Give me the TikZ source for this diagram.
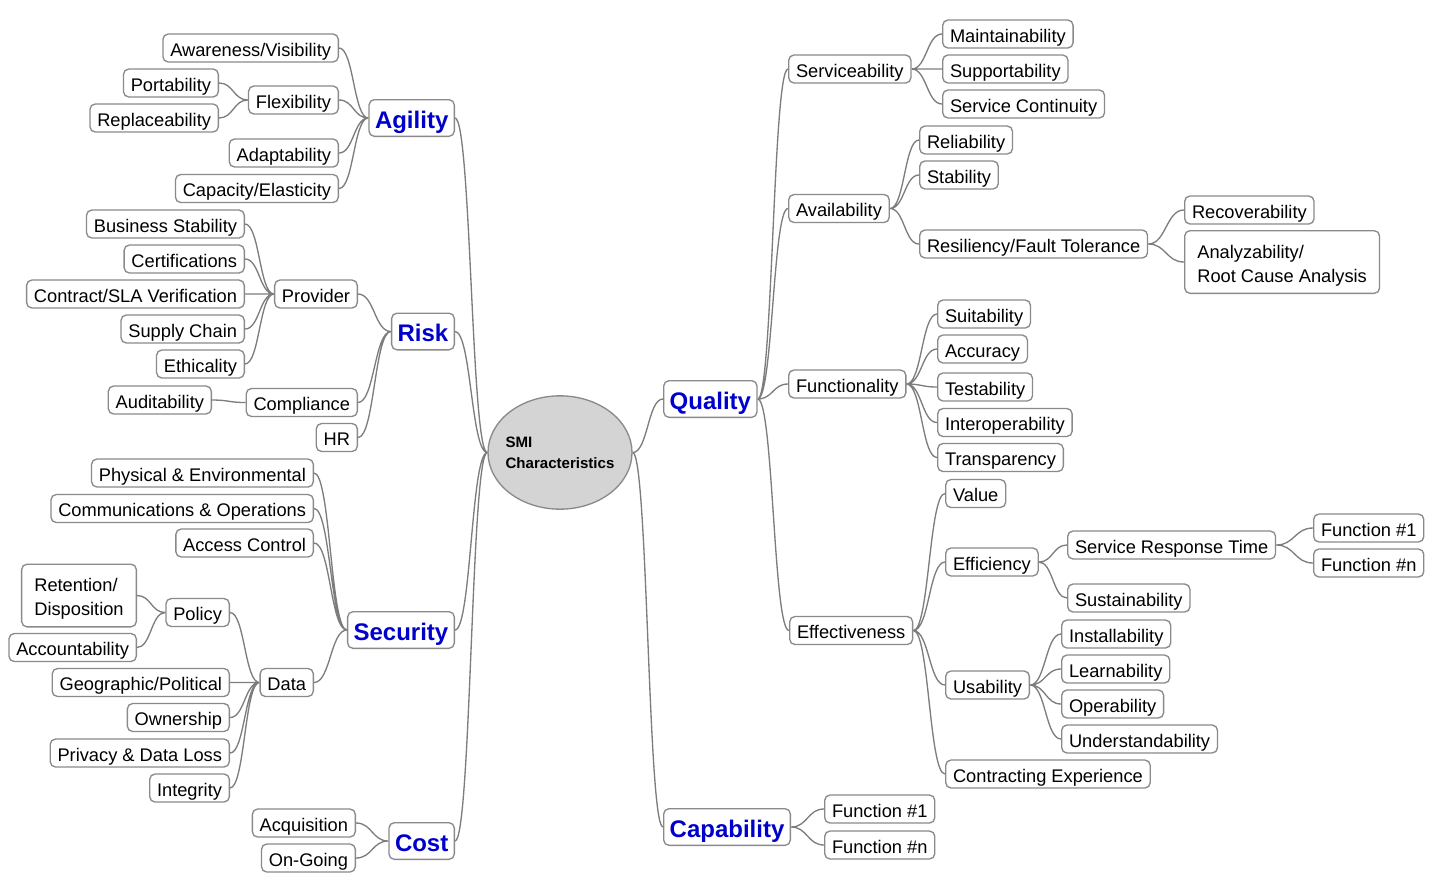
\documentclass[tikz,border=0pt]{standalone}
\usepackage{fontspec}
\setmainfont{Liberation Sans}
\usetikzlibrary{shapes.geometric,calc}

\definecolor{boxgray}{RGB}{138,138,138}
\definecolor{linkgray}{RGB}{125,125,125}
\definecolor{hubgray}{RGB}{212,212,212}
\definecolor{topicblue}{RGB}{0,0,204}

\tikzset{every picture/.style={line width=0.75pt}}
\tikzset{
  box/.style={draw=boxgray, line width=1pt, rounded corners=4pt, fill=white,
    font=\fontsize{13.7}{18}\selectfont, inner xsep=5.5pt, inner ysep=2pt, minimum height=21pt,
    text height=13pt, text depth=1pt},
  multibox/.style={box, align=left, inner xsep=9.5pt, minimum height=47pt,
    text height=30pt, text depth=0pt},
  topic/.style={box, text=topicblue, font=\fontsize{18}{21}\selectfont\bfseries,
    inner xsep=4.5pt, minimum height=27.5pt, text height=16pt, text depth=1pt},
  hub/.style={ellipse, draw=boxgray, line width=1pt, fill=hubgray, inner sep=0pt,
    minimum width=108pt, minimum height=85pt},
  hubtext/.style={align=left, font=\fontsize{11.3}{15.75}\selectfont\bfseries, inner sep=0pt},
  link/.style={draw=linkgray, line width=1pt, to path={
    let \p1=(\tikztostart), \p2=(\tikztotarget) in
    .. controls ({(\x1+\x2)/2*1pt},\y1) and ({(\x1+\x2)/2*1pt},\y2) .. (\p2)}}
}

\begin{document}
\begin{tikzpicture}[x=0.75pt,y=0.75pt,yscale=-1,xscale=1]
    \useasboundingbox (0,0) rectangle (1437,886);
    % Hub
    \node[hub] (smi) at (560,452.5) {};
    \node[hubtext] (smitext) at (smi.center) {SMI\\Characteristics};
    % Topics, left
    \node[topic, anchor=east] (agility) at (455,118) {Agility};
    \node[topic, anchor=east] (risk) at (455,331.5) {Risk};
    \node[topic, anchor=east] (security) at (455,630) {Security};
    \node[topic, anchor=east] (cost) at (455,841) {Cost};
    % Topics, right
    \node[topic, anchor=west] (quality) at (663,399) {Quality};
    \node[topic, anchor=west] (capability) at (663,827) {Capability};

    % Text Node: Agility
    \node[box, anchor=east] (awareness) at (339,48) {Awareness/Visibility};
    \node[box, anchor=east] (flexibility) at (339,100) {Flexibility};
    \node[box, anchor=east] (adaptability) at (339,153) {Adaptability};
    \node[box, anchor=east] (capacity) at (339,188.5) {Capacity/Elasticity};
    \node[box, anchor=east] (portability) at (219,83) {Portability};
    \node[box, anchor=east] (replaceability) at (219,118) {Replaceability};
    % Text Node: Risk
    \node[box, anchor=east] (provider) at (358,294) {Provider};
    \node[box, anchor=east] (compliance) at (358,402.5) {Compliance};
    \node[box, anchor=east] (hr) at (358,437.5) {HR};
    \node[box, anchor=east] (business) at (245,224) {Business Stability};
    \node[box, anchor=east] (certifications) at (245,259) {Certifications};
    \node[box, anchor=east] (contract) at (245,294) {Contract/SLA Verification};
    \node[box, anchor=east] (supply) at (245,329) {Supply Chain};
    \node[box, anchor=east] (ethicality) at (245,364) {Ethicality};
    \node[box, anchor=east] (auditability) at (212,400) {Auditability};
    % Text Node: Security
    \node[box, anchor=east] (physical) at (314,473) {Physical \& Environmental};
    \node[box, anchor=east] (communications) at (314,508.5) {Communications \& Operations};
    \node[box, anchor=east] (access) at (314,543) {Access Control};
    \node[box, anchor=east] (data) at (314,682.5) {Data};
    \node[box, anchor=east] (policy) at (230,612.5) {Policy};
    \node[box, anchor=east] (geographic) at (230,682.5) {Geographic/Political};
    \node[box, anchor=east] (ownership) at (230,717.5) {Ownership};
    \node[box, anchor=east] (privacy) at (230,753) {Privacy \& Data Loss};
    \node[box, anchor=east] (integrity) at (230,788) {Integrity};
    \node[multibox, anchor=east] (retention) at (137,595.5) {Retention/\\Disposition};
    \node[box, anchor=east] (accountability) at (137,647.5) {Accountability};
    % Text Node: Cost
    \node[box, anchor=east] (acquisition) at (356,823) {Acquisition};
    \node[box, anchor=east] (ongoing) at (356,858) {On-Going};

    % Text Node: Quality
    \node[box, anchor=west] (serviceability) at (788,69) {Serviceability};
    \node[box, anchor=west] (availability) at (788,208.5) {Availability};
    \node[box, anchor=west] (functionality) at (788,384) {Functionality};
    \node[box, anchor=west] (effectiveness) at (789,630.5) {Effectiveness};
    \node[box, anchor=west] (maintainability) at (942,34) {Maintainability};
    \node[box, anchor=west] (supportability) at (942,69) {Supportability};
    \node[box, anchor=west] (continuity) at (942,104) {Service Continuity};
    \node[box, anchor=west] (reliability) at (919,140) {Reliability};
    \node[box, anchor=west] (stability) at (919,175) {Stability};
    \node[box, anchor=west] (resiliency) at (919,244) {Resiliency/Fault Tolerance};
    \node[box, anchor=west] (recoverability) at (1184,210) {Recoverability};
    \node[multibox, anchor=west] (analyzability) at (1184,262) {Analyzability/\\Root Cause Analysis};
    \node[box, anchor=west] (suitability) at (937,314) {Suitability};
    \node[box, anchor=west] (accuracy) at (937,349) {Accuracy};
    \node[box, anchor=west] (testability) at (937,387) {Testability};
    \node[box, anchor=west] (interoperability) at (937,422.5) {Interoperability};
    \node[box, anchor=west] (transparency) at (937,457.5) {Transparency};
    \node[box, anchor=west] (value) at (945,493.5) {Value};
    \node[box, anchor=west] (efficiency) at (945,562) {Efficiency};
    \node[box, anchor=west] (usability) at (945,685) {Usability};
    \node[box, anchor=west] (contracting) at (945,774) {Contracting Experience};
    \node[box, anchor=west] (response) at (1067,545) {Service Response Time};
    \node[box, anchor=west] (sustainability) at (1067,598) {Sustainability};
    \node[box, anchor=west] (respfirst) at (1313,528) {Function \#1};
    \node[box, anchor=west] (respn) at (1313,563) {Function \#n};
    \node[box, anchor=west] (installability) at (1061,634) {Installability};
    \node[box, anchor=west] (learnability) at (1061,669) {Learnability};
    \node[box, anchor=west] (operability) at (1061,704) {Operability};
    \node[box, anchor=west] (understandability) at (1061,739) {Understandability};
    % Text Node: Capability
    \node[box, anchor=west] (capfirst) at (824,809) {Function \#1};
    \node[box, anchor=west] (capn) at (824,845) {Function \#n};

    % Connection: hub
    \draw[link] (smi.west) to (agility.east) (smi.west) to (risk.east)
      (smi.west) to (security.east) (smi.west) to (cost.east);
    \draw[link] (smi.east) to (quality.west) (smi.east) to (capability.west);
    % Connection: Agility
    \draw[link] (agility.west) to (awareness.east) (agility.west) to (flexibility.east)
      (agility.west) to (adaptability.east) (agility.west) to (capacity.east);
    \draw[link] (flexibility.west) to (portability.east) (flexibility.west) to (replaceability.east);
    % Connection: Risk
    \draw[link] (risk.west) to (provider.east) (risk.west) to (compliance.east) (risk.west) to (hr.east);
    \draw[link] (provider.west) to (business.east) (provider.west) to (certifications.east)
      (provider.west) to (contract.east) (provider.west) to (supply.east) (provider.west) to (ethicality.east);
    \draw[link] (compliance.west) to (auditability.east);
    % Connection: Security
    \draw[link] (security.west) to (physical.east) (security.west) to (communications.east)
      (security.west) to (access.east) (security.west) to (data.east);
    \draw[link] (data.west) to (policy.east) (data.west) to (geographic.east)
      (data.west) to (ownership.east) (data.west) to (privacy.east) (data.west) to (integrity.east);
    \draw[link] (policy.west) to (retention.east) (policy.west) to (accountability.east);
    % Connection: Cost
    \draw[link] (cost.west) to (acquisition.east) (cost.west) to (ongoing.east);
    % Connection: Quality
    \draw[link] (quality.east) to (serviceability.west) (quality.east) to (availability.west)
      (quality.east) to (functionality.west) (quality.east) to (effectiveness.west);
    \draw[link] (serviceability.east) to (maintainability.west) (serviceability.east) to (supportability.west)
      (serviceability.east) to (continuity.west);
    \draw[link] (availability.east) to (reliability.west) (availability.east) to (stability.west)
      (availability.east) to (resiliency.west);
    \draw[link] (resiliency.east) to (recoverability.west) (resiliency.east) to (analyzability.west);
    \draw[link] (functionality.east) to (suitability.west) (functionality.east) to (accuracy.west)
      (functionality.east) to (testability.west) (functionality.east) to (interoperability.west)
      (functionality.east) to (transparency.west);
    \draw[link] (effectiveness.east) to (value.west) (effectiveness.east) to (efficiency.west)
      (effectiveness.east) to (usability.west) (effectiveness.east) to (contracting.west);
    \draw[link] (efficiency.east) to (response.west) (efficiency.east) to (sustainability.west);
    \draw[link] (response.east) to (respfirst.west) (response.east) to (respn.west);
    \draw[link] (usability.east) to (installability.west) (usability.east) to (learnability.west)
      (usability.east) to (operability.west) (usability.east) to (understandability.west);
    % Connection: Capability
    \draw[link] (capability.east) to (capfirst.west) (capability.east) to (capn.west);
\end{tikzpicture}
\end{document}
